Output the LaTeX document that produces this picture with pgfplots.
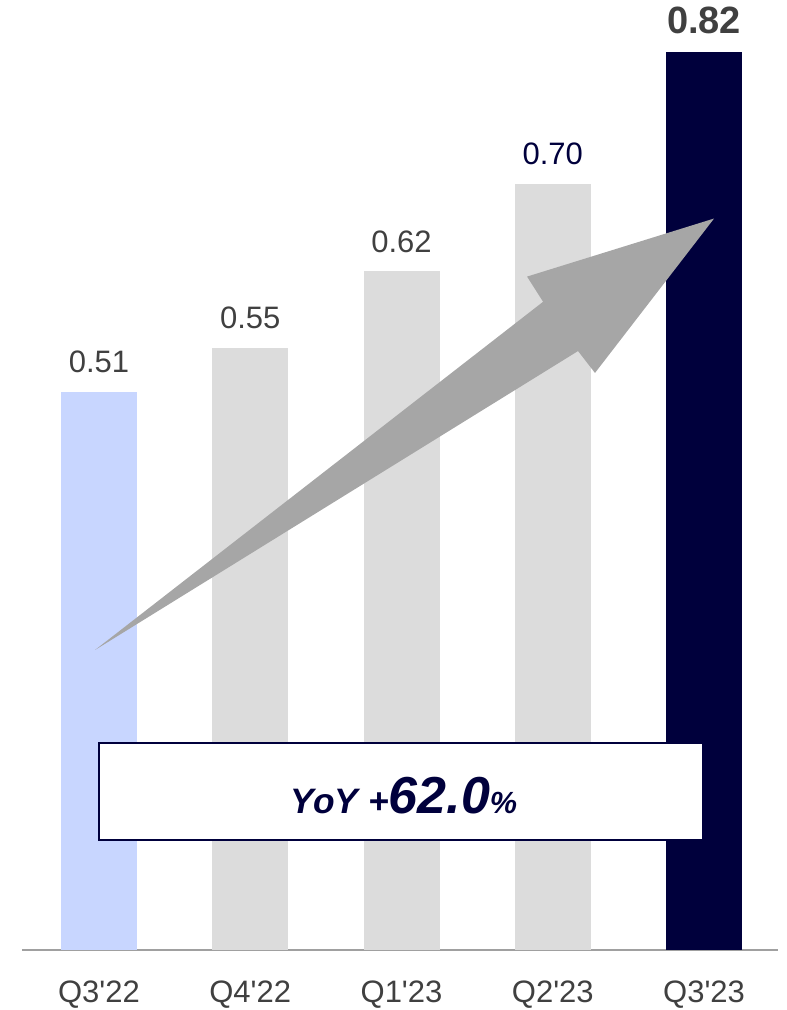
\documentclass[border=0pt]{standalone}
\usepackage{pgfplots}
\pgfplotsset{compat=1.18}
\usepackage{fontspec}
\setmainfont{Liberation Sans}
\definecolor{periw}{HTML}{C8D6FF}
\definecolor{lgray}{HTML}{DCDCDC}
\definecolor{navy}{HTML}{00003C}
\definecolor{txtgray}{HTML}{404040}
\definecolor{arrowgray}{HTML}{A6A6A6}
\definecolor{axgray}{HTML}{A0A0A0}
\begin{document}
\begin{tikzpicture}
\path[use as bounding box] (0,0) rectangle (589.5pt,757.5pt);
\begin{axis}[
  at={(16.5pt,45pt)}, anchor=south west,
  scale only axis, width=567pt, height=712.5pt,
  xmin=-0.509, xmax=4.489, ymin=0, ymax=0.8676,
  ybar, bar width=0.5025,
  axis y line=none, axis x line*=bottom,
  x axis line style={-, draw=axgray, line width=1.5pt},
  xtick={0,1,2,3,4},
  xticklabels={{Q3\textquotesingle22},{Q4\textquotesingle22},{Q1\textquotesingle23},{Q2\textquotesingle23},{Q3\textquotesingle23}},
  major tick length=0pt,
  xticklabel style={font=\fontsize{23.25}{28}\selectfont, text=txtgray, anchor=base, yshift=-39pt},
  /pgf/number format/assume math mode=true,
  nodes near coords={\pgfmathprintnumber[fixed,fixed zerofill,precision=2]{\pgfplotspointmeta}},
  nodes near coords style={font=\fontsize{23.25}{28}\selectfont, text=txtgray, anchor=base, yshift=14.25pt},
  clip=false,
]
\addplot[fill=periw, draw=none, bar shift=0pt] coordinates {(0,0.51)};
\addplot[fill=lgray, draw=none, bar shift=0pt] coordinates {(1,0.55)};
\addplot[fill=lgray, draw=none, bar shift=0pt] coordinates {(2,0.62)};
\addplot[fill=lgray, draw=none, bar shift=0pt, nodes near coords style={text=navy}] coordinates {(3,0.70)};
\addplot[fill=navy, draw=none, bar shift=0pt, nodes near coords style={font=\fontsize{28.5}{32}\selectfont\bfseries, yshift=-0.5pt}] coordinates {(4,0.82)};
\fill[arrowgray] (axis cs:-0.026,0.274) -- (axis cs:2.936,0.592) -- (axis cs:2.830,0.615) -- (axis cs:4.066,0.668) -- (axis cs:3.279,0.527) -- (axis cs:3.167,0.547) -- cycle;
\draw[navy, line width=1.5pt, fill=white] (axis cs:0,0.1005) rectangle (axis cs:3.993,0.189);
\node[anchor=base, text=navy, font=\bfseries\itshape, inner sep=0pt] at (axis cs:2.017,0.125) {\fontsize{26.5}{30}\selectfont YoY +\fontsize{39}{42}\selectfont 62.0\fontsize{23}{26}\selectfont\%};
\end{axis}
\end{tikzpicture}
\end{document}
